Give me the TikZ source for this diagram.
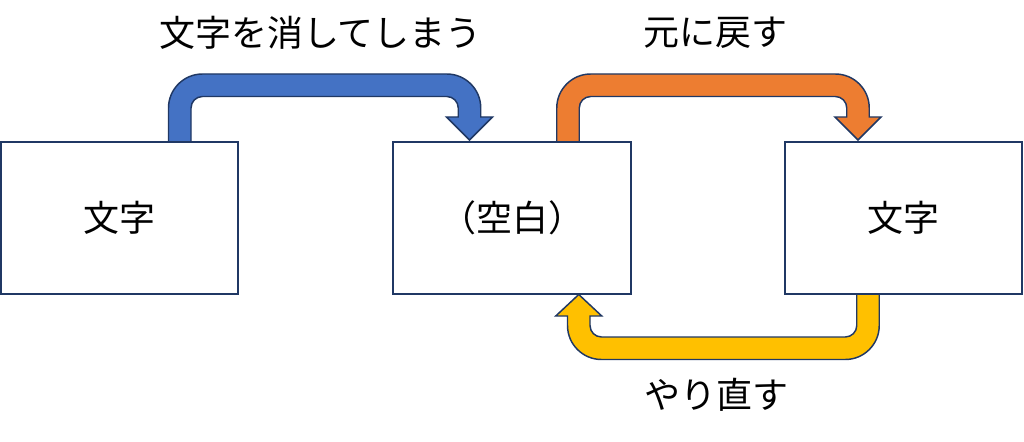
\documentclass[tikz,border=0pt]{standalone}
\usepackage{fontspec}
\newfontfamily\jpfont{Noto Sans CJK JP}
\definecolor{outl}{HTML}{203864}
\definecolor{cblue}{HTML}{4472C4}
\definecolor{corange}{HTML}{ED7D31}
\definecolor{cyellow}{HTML}{FFC000}
\tikzset{
  box/.style={draw=outl, line width=1.5pt, fill=white, rectangle, inner sep=0pt,
    minimum width=237.5*0.75pt, minimum height=151.5*0.75pt, font=\jpfont\fontsize{27pt}{32pt}\selectfont},
  lbl/.style={inner sep=0pt, font=\jpfont\fontsize{27pt}{32pt}\selectfont},
  barrow/.style={draw=outl, line width=1.1pt, line join=miter}
}
\begin{document}
\begin{tikzpicture}[x=0.75pt, y=-0.75pt]
\useasboundingbox (0,0) rectangle (1024,442);
% blue arrow
\path[barrow, fill=cblue] (168.5,143) -- (168.5,108) arc[start angle=180, end angle=270, radius=34]
  -- (446.75,74) arc[start angle=270, end angle=360, radius=34]
  -- (480.75,117) -- (492.5,117) -- (469.5,140) -- (446.5,117) -- (458.25,117) -- (458.25,108)
  arc[start angle=0, end angle=-90, radius=11.5]
  -- (202.5,96.5) arc[start angle=270, end angle=180, radius=11.5]
  -- (191,143) -- cycle;
% orange arrow
\path[barrow, fill=corange] (556.75,143) -- (556.75,108) arc[start angle=180, end angle=270, radius=34]
  -- (835.25,74) arc[start angle=270, end angle=360, radius=34]
  -- (869.25,117) -- (881,117) -- (858,140) -- (835,117) -- (846.75,117) -- (846.75,108)
  arc[start angle=0, end angle=-90, radius=11.5]
  -- (590.75,96.5) arc[start angle=270, end angle=180, radius=11.5]
  -- (579.25,143) -- cycle;
% yellow arrow
\path[barrow, fill=cyellow] (856.75,293) -- (856.75,325.5) arc[start angle=0, end angle=90, radius=11.5]
  -- (601.5,337) arc[start angle=90, end angle=180, radius=11.5]
  -- (590,316) -- (601.75,316) -- (578.75,294.5) -- (555.75,316) -- (567.5,316) -- (567.5,325.5)
  arc[start angle=180, end angle=90, radius=34]
  -- (845.25,359.5) arc[start angle=90, end angle=0, radius=34]
  -- (879.25,293) -- cycle;
% boxes
\node[box] (left) at (119.5,218) {文字};
\node[box] (mid) at (512,218) {（空白）};
\node[box] (right) at (903.5,218) {文字};
% labels
\node[lbl] (erase) at (320.5,33) {文字を消してしまう};
\node[lbl] (undo) at (715,33) {元に戻す};
\node[lbl] (redo) at (716.5,395) {やり直す};
\end{tikzpicture}
\end{document}
